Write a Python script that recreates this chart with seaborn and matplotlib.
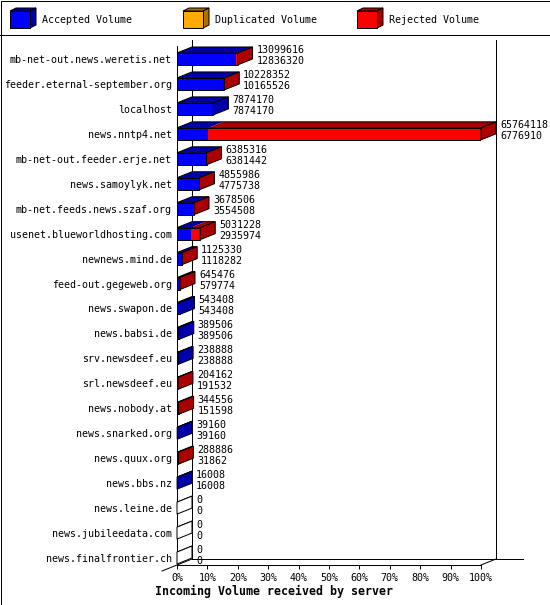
import matplotlib
matplotlib.use("Agg")
import matplotlib.pyplot as plt
from matplotlib.patches import Polygon, Rectangle
from matplotlib.lines import Line2D
import pandas as pd
import seaborn as sns

# data
servers = [
    "mb-net-out.news.weretis.net", "feeder.eternal-september.org", "localhost",
    "news.nntp4.net", "mb-net-out.feeder.erje.net", "news.samoylyk.net",
    "mb-net.feeds.news.szaf.org", "usenet.blueworldhosting.com", "newnews.mind.de",
    "feed-out.gegeweb.org", "news.swapon.de", "news.babsi.de", "srv.newsdeef.eu",
    "srl.newsdeef.eu", "news.nobody.at", "news.snarked.org", "news.quux.org",
    "news.bbs.nz", "news.leine.de", "news.jubileedata.com", "news.finalfrontier.ch",
]
total_volume = [
    13099616, 10228352, 7874170, 65764118, 6385316, 4855986, 3678506, 5031228,
    1125330, 645476, 543408, 389506, 238888, 204162, 344556, 39160, 288886,
    16008, 0, 0, 0,
]
accepted_volume = [
    12836320, 10165526, 7874170, 6776910, 6381442, 4775738, 3554508, 2935974,
    1118282, 579774, 543408, 389506, 238888, 191532, 151598, 39160, 31862,
    16008, 0, 0, 0,
]
legend_labels = ["Accepted Volume", "Duplicated Volume", "Rejected Volume"]
x_ticks = list(range(0, 101, 10))
title = "Incoming Volume received by server"

W, H = 550, 605
FRONT = ["#0000FF", "#FFAA00", "#FF0000"]
SHADE = ["#0000AA", "#AA7100", "#AA0000"]
LW = 0.72
plt.rcParams["font.family"] = ["DejaVu Sans Mono"]

df = pd.DataFrame({"server": servers, "total": total_volume, "accepted": accepted_volume})
peak = df["total"].max()
df["total_pct"] = df["total"] / peak * 100
df["acc_pct"] = df["accepted"] / peak * 100


def fx(px):
    return px / W


def fy(py):
    return 1 - py / H


fig = plt.figure(figsize=(W / 100, H / 100), dpi=100)
ax = fig.add_axes([fx(177), fy(565), (481 - 177) / W, (565 - 46) / H])

bar_h = 0.48
kw = dict(data=df, y="server", orient="h", width=bar_h, errorbar=None,
          saturation=1, ax=ax, zorder=3)
sns.barplot(x="total_pct", color=FRONT[2], linewidth=0, **kw)
sns.barplot(x="acc_pct", color=FRONT[0], linewidth=0, **kw)
sns.barplot(x="total_pct", fill=False, color="black", linewidth=LW, **kw)

ax.set_xlim(0, 100)
ax.set_ylim(20.28, -0.52)
ax.set_xlabel("")
ax.set_ylabel("")
ax.set_xticks(x_ticks)
ax.set_xticklabels([f"{v}%" for v in x_ticks])
ax.tick_params(axis="x", length=3, width=LW, pad=2.5, labelsize=7.2)
ax.tick_params(axis="y", length=0, pad=3.6, labelsize=7.2)
for s in ("top", "right"):
    ax.spines[s].set_visible(False)
for s in ("left", "bottom"):
    ax.spines[s].set_linewidth(LW)

# 3d depth
dx = 15 / 304 * 100
dy = 6 / 24.95
y_top, y_bot = -0.52, 20.28

# back wall / floor
line_kw = dict(color="black", lw=LW, clip_on=False, zorder=1)
ax.plot([dx, dx], [y_top - dy, y_bot - dy], **line_kw)
ax.plot([100 + dx, 100 + dx], [y_top - dy, y_bot - dy], **line_kw)
ax.plot([dx, 113.8], [y_bot - dy, y_bot - dy], **line_kw)
ax.plot([-dx, dx], [y_bot + dy, y_bot - dy], **line_kw)
ax.plot([100, 100 + dx], [y_bot, y_bot - dy], **line_kw)


def top_face(x0, x1, yt):
    return [(x0, yt), (x1, yt), (x1 + dx, yt - dy), (x0 + dx, yt - dy)]


for i, row in df.iterrows():
    t, a = row["total_pct"], row["acc_pct"]
    yt, yb = i - bar_h / 2, i + bar_h / 2
    if a > 0:
        ax.add_patch(Polygon(top_face(0, a, yt), fc=SHADE[0], ec="none",
                             zorder=3, clip_on=False))
    if t > a:
        ax.add_patch(Polygon(top_face(a, t, yt), fc=SHADE[2], ec="none",
                             zorder=3, clip_on=False))
    ax.add_patch(Polygon(top_face(0, t, yt), fill=False, ec="black", lw=LW,
                         zorder=4, clip_on=False))
    side = SHADE[2] if t > a else (SHADE[0] if t > 0 else "white")
    ax.add_patch(Polygon([(t, yt), (t, yb), (t + dx, yb - dy), (t + dx, yt - dy)],
                         fc=side, ec="black", lw=LW, zorder=4, clip_on=False))
    ax.text(t + dx + 1.3, i - 0.34, str(row["total"]), fontsize=7.2,
            va="center", ha="left")
    ax.text(t + dx + 1.3, i + 0.10, str(row["accepted"]), fontsize=7.2,
            va="center", ha="left")

# legend strip
def legend_box(x, y, front, shade, w=20, h=17, ddx=6, ddy=3):
    pts_front = [(x, y), (x + w, y), (x + w, y + h), (x, y + h)]
    pts_top = [(x, y), (x + ddx, y - ddy), (x + w + ddx, y - ddy), (x + w, y)]
    pts_side = [(x + w, y), (x + w + ddx, y - ddy), (x + w + ddx, y + h - ddy), (x + w, y + h)]
    for pts, c in ((pts_top, shade), (pts_side, shade), (pts_front, front)):
        fig.add_artist(Polygon([(fx(px), fy(py)) for px, py in pts], fc=c,
                               ec="black", lw=LW, transform=fig.transFigure))


for lx, label, fc, sc in zip([10, 183, 357], legend_labels, FRONT, SHADE):
    legend_box(lx, 11, fc, sc)
    fig.text(fx(lx + 32), fy(20), label, fontsize=7.2, va="center", ha="left")

fig.add_artist(Line2D([0, 1], [fy(35), fy(35)], color="black", lw=LW))
fig.add_artist(Rectangle((fx(0.5), fy(604.5)), fx(549), 604 / H, fill=False,
                         ec="black", lw=LW, transform=fig.transFigure))

fig.text(fx(155), fy(591), title, fontsize=8.4, fontweight="bold",
         va="center", ha="left")

fig.savefig("out.png", dpi=100)
